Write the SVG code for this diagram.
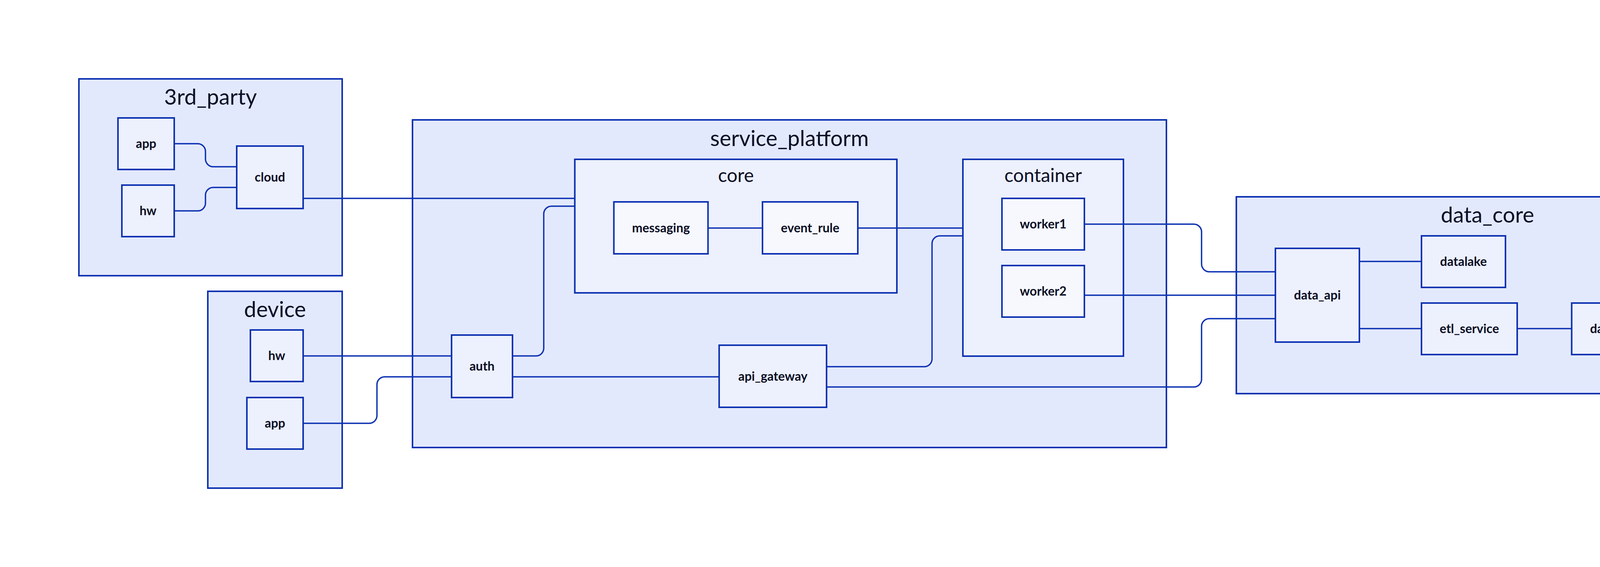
<svg xmlns="http://www.w3.org/2000/svg" width="4652" height="1452" viewBox="0 0 4652 1452">
<style>
.l1{fill:#E3E9FD;stroke:#0D32B2;stroke-width:4}
.l2{fill:#EDF0FD;stroke:#0D32B2;stroke-width:4}
.l3{fill:#F7F8FE;stroke:#0D32B2;stroke-width:4}
.ct{font-family:Lato,"Liberation Sans",sans-serif;font-size:56px;fill:#0A0F25;text-anchor:middle}
.ct2{font-family:Lato,"Liberation Sans",sans-serif;font-size:48px;fill:#0A0F25;text-anchor:middle}
.nl{font-family:Lato,"Liberation Sans",sans-serif;font-size:32px;font-weight:bold;fill:#0A0F25;text-anchor:middle}
.e{fill:none;stroke:#0D32B2;stroke-width:3.5}
</style>
<rect width="4652" height="1452" fill="#FFFFFF"/>
<g id="3rd_party">
<rect class="l1" x="202" y="202" width="674" height="504"/>
<text class="ct" x="539" y="268">3rd_party</text>
</g>
<g id="3rd_party.app">
<rect class="l2" x="302" y="302" width="144" height="132"/>
<text class="nl" x="374" y="379">app</text>
</g>
<g id="3rd_party.hw">
<rect class="l2" x="312" y="474" width="134" height="132"/>
<text class="nl" x="379" y="551">hw</text>
</g>
<g id="3rd_party.cloud">
<rect class="l2" x="606" y="374" width="170" height="160"/>
<text class="nl" x="691" y="465">cloud</text>
</g>
<g id="device">
<rect class="l1" x="532" y="746" width="344" height="504"/>
<text class="ct" x="704" y="812">device</text>
</g>
<g id="device.hw">
<rect class="l2" x="641" y="845" width="135" height="132"/>
<text class="nl" x="708.5" y="922">hw</text>
</g>
<g id="device.app">
<rect class="l2" x="632" y="1018" width="144" height="132"/>
<text class="nl" x="704" y="1095">app</text>
</g>
<g id="service_platform">
<rect class="l1" x="1056" y="307" width="1930" height="839"/>
<text class="ct" x="2021" y="374">service_platform</text>
</g>
<g id="service_platform.core">
<rect class="l2" x="1471.5" y="408" width="824.5" height="342"/>
<text class="ct2" x="1884" y="466">core</text>
</g>
<g id="service_platform.core.messaging">
<rect class="l3" x="1571.5" y="517" width="241" height="133"/>
<text class="nl" x="1692" y="594.5">messaging</text>
</g>
<g id="service_platform.core.event_rule">
<rect class="l3" x="1952" y="517" width="244" height="133"/>
<text class="nl" x="2074" y="594.5">event_rule</text>
</g>
<g id="service_platform.container">
<rect class="l2" x="2465" y="408" width="411" height="504"/>
<text class="ct2" x="2670.5" y="466">container</text>
</g>
<g id="service_platform.container.worker1">
<rect class="l3" x="2565" y="508" width="211" height="132"/>
<text class="nl" x="2670.5" y="585">worker1</text>
</g>
<g id="service_platform.container.worker2">
<rect class="l3" x="2565" y="680" width="211" height="132"/>
<text class="nl" x="2670.5" y="757">worker2</text>
</g>
<g id="service_platform.auth">
<rect class="l2" x="1156" y="858" width="156" height="160"/>
<text class="nl" x="1234" y="949">auth</text>
</g>
<g id="service_platform.api_gateway">
<rect class="l2" x="1841" y="884" width="275" height="159"/>
<text class="nl" x="1978.5" y="974.5">api_gateway</text>
</g>
<g id="data_core">
<rect class="l1" x="3165" y="504" width="1285.5" height="504"/>
<text class="ct" x="3808" y="570">data_core</text>
</g>
<g id="data_core.data_api">
<rect class="l2" x="3265" y="636" width="215" height="240"/>
<text class="nl" x="3372.5" y="767">data_api</text>
</g>
<g id="data_core.datalake">
<rect class="l2" x="3639" y="604" width="215" height="132"/>
<text class="nl" x="3746.5" y="681">datalake</text>
</g>
<g id="data_core.etl_service">
<rect class="l2" x="3639" y="776" width="245" height="132"/>
<text class="nl" x="3761.5" y="853">etl_service</text>
</g>
<g id="data_core.data_warehouse">
<rect class="l2" x="4023.5" y="776" width="327" height="132"/>
<text class="nl" x="4187" y="853">data_warehouse</text>
</g>
<g id="connectors">
<path class="e" d="M446,368 H506 A20,20 0 0 1 526,388 V407 A20,20 0 0 0 546,427 H606"/>
<path class="e" d="M446,540 H506 A20,20 0 0 0 526,520 V500 A20,20 0 0 1 546,480 H606"/>
<path class="e" d="M776,508 H1471"/>
<path class="e" d="M776,911.5 H1156"/>
<path class="e" d="M776,1084 H945 A20,20 0 0 0 965,1064 V985 A20,20 0 0 1 985,965 H1156"/>
<path class="e" d="M1312,911.5 H1372 A20,20 0 0 0 1392,891.5 V548 A20,20 0 0 1 1412,528 H1471"/>
<path class="e" d="M1312,965 H1841"/>
<path class="e" d="M1812,584 H1952"/>
<path class="e" d="M2196,584 H2465"/>
<path class="e" d="M2116,939 H2366 A20,20 0 0 0 2386,919 V624 A20,20 0 0 1 2406,604 H2465"/>
<path class="e" d="M2776,574 H3056 A20,20 0 0 1 3076,594 V676 A20,20 0 0 0 3096,696 H3265"/>
<path class="e" d="M2776,756 H3265"/>
<path class="e" d="M2116,991 H3056 A20,20 0 0 0 3076,971 V836 A20,20 0 0 1 3096,816 H3265"/>
<path class="e" d="M3480,669.5 H3639"/>
<path class="e" d="M3480,841.5 H3639"/>
<path class="e" d="M3884,841.5 H4023.5"/>
</g>
</svg>
